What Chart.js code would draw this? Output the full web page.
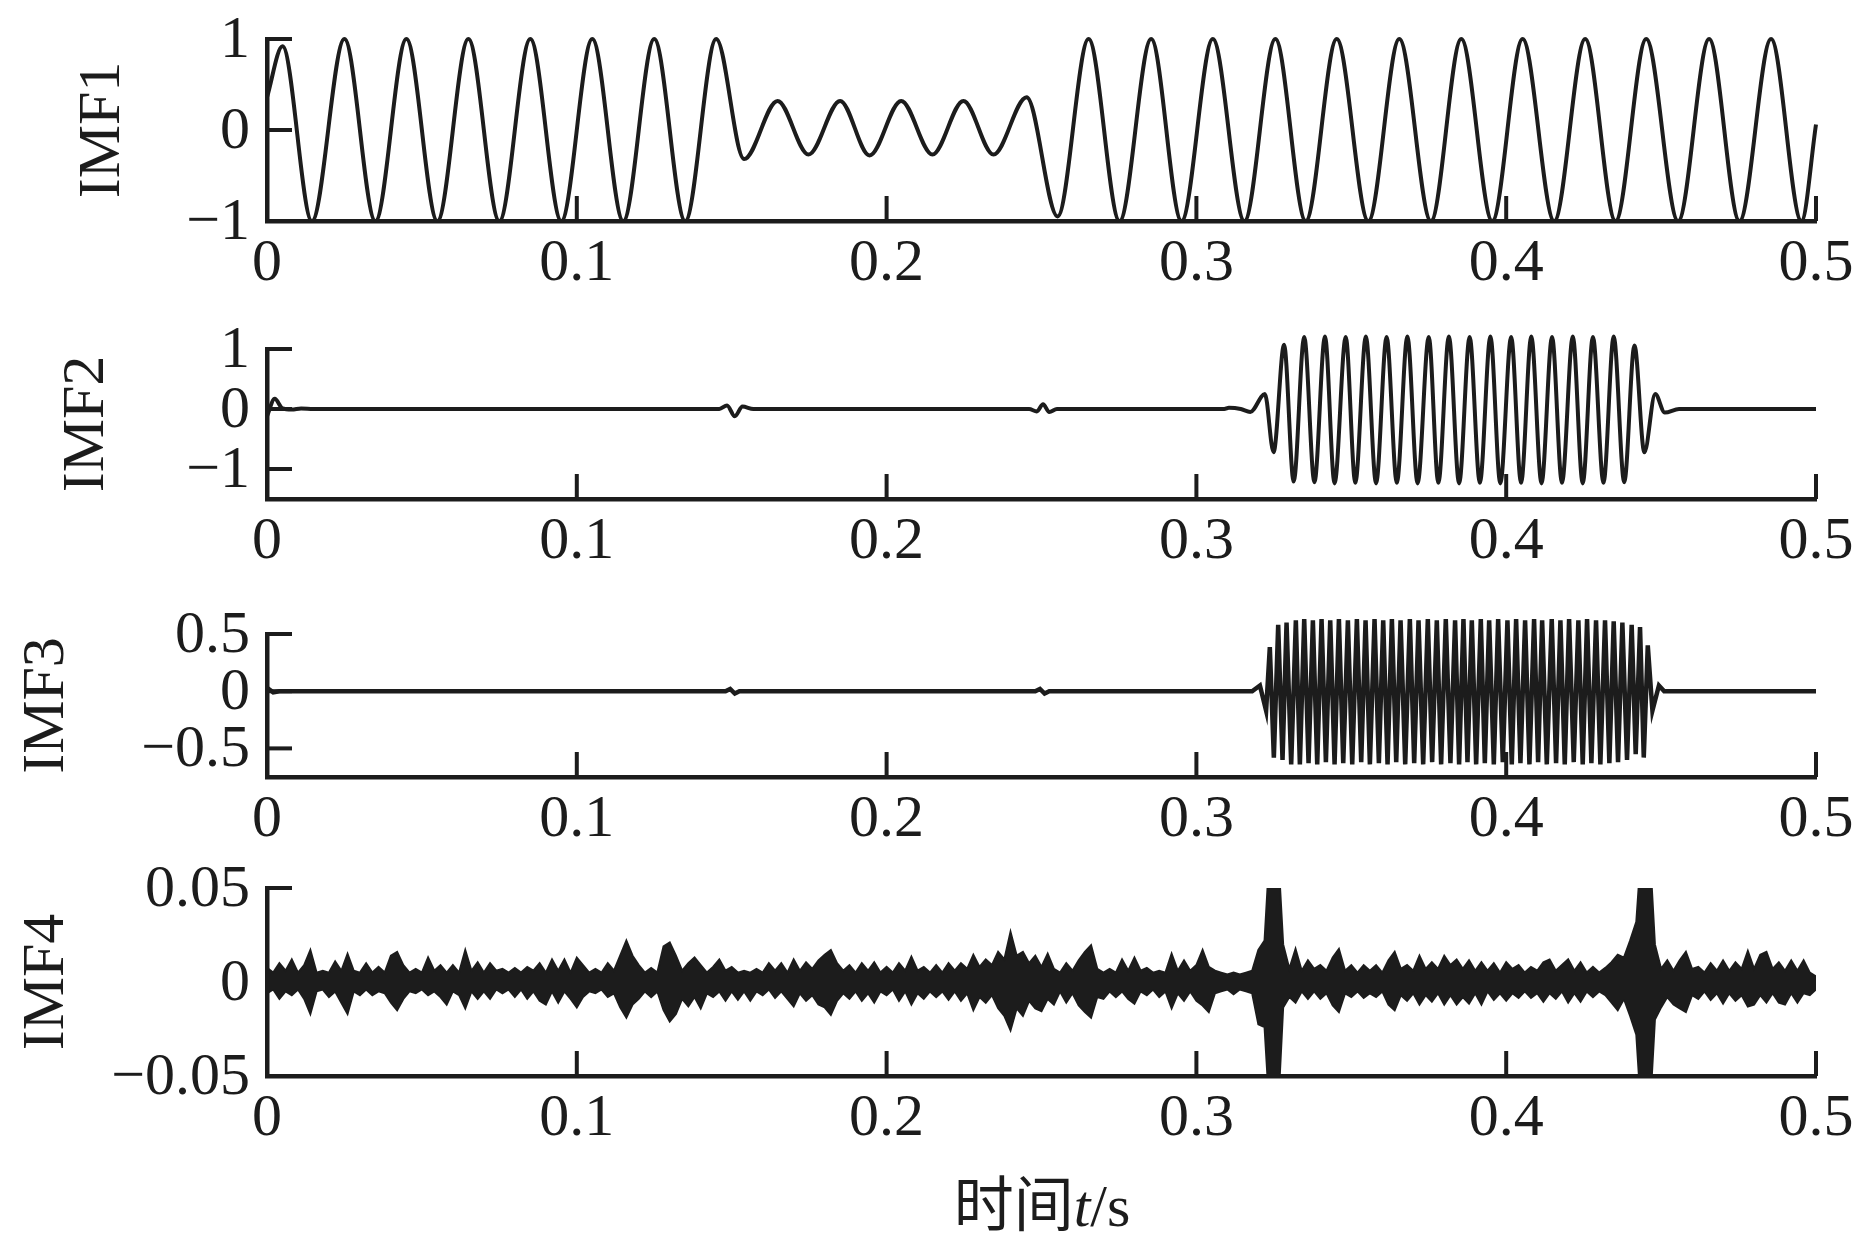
<!DOCTYPE html>
<html>
<head>
<meta charset="utf-8">
<script src="https://cdn.jsdelivr.net/npm/chart.js@4.4.0/dist/chart.umd.min.js"></script>
<style>
  body { margin: 0; background: #fff; }
  #wrap { position: relative; width: 1856px; height: 1249px; overflow: hidden; background: #fff; }
  #wrap canvas { position: absolute; left: 0; }
  #xtitle {
    position: absolute; left: 842px; width: 400px; top: 1174px;
    text-align: center; font-size: 60px; line-height: 64px; color: #1c1c1c;
    font-family: "Liberation Serif", "Noto Sans CJK SC", serif;
  }
</style>
</head>
<body>
<div id="wrap">
  <canvas id="imf1" width="1856" height="342" style="top:-21px"></canvas>
  <canvas id="imf2" width="1856" height="310" style="top:289px"></canvas>
  <canvas id="imf3" width="1856" height="303" style="top:574px"></canvas>
  <canvas id="imf4" width="1856" height="348" style="top:828px"></canvas>
  <div id="xtitle">时间<i>t</i>/s</div>
</div>
<script>
// shared x axis
const xTicks = [0, 0.1, 0.2, 0.3, 0.4, 0.5];
const xTickLabels = ['0', '0.1', '0.2', '0.3', '0.4', '0.5'];

// IMF1 - peaks / troughs
const imf1Time = [0, 0.005, 0.0145, 0.025, 0.035, 0.045, 0.055, 0.065, 0.075, 0.085, 0.095, 0.105, 0.115, 0.125, 0.135, 0.145,
  0.154, 0.1648, 0.1748, 0.185, 0.1945, 0.2047, 0.2148, 0.2248, 0.2345, 0.2452, 0.2552,
  0.2652, 0.2752, 0.2854, 0.2952, 0.3053, 0.3155, 0.3255, 0.3353, 0.3453, 0.3555, 0.3655, 0.3757,
  0.3855, 0.3955, 0.4053, 0.4155, 0.4255, 0.4353, 0.4452, 0.4555, 0.4655, 0.4753, 0.4855, 0.4953, 0.5];
const imf1Value = [0.36, 0.92, -1, 1, -1, 1, -1, 1, -1, 1, -1, 1, -1, 1, -1, 1,
  -0.32, 0.32, -0.27, 0.32, -0.28, 0.32, -0.27, 0.32, -0.27, 0.36, -0.95,
  1, -1, 1, -1, 1, -1, 1, -1, 1, -1, 1, -1,
  1, -1, 1, -1, 1, -1, 1, -1, 1, -1, 1, -1, 0.06];
const imf1Ticks = [-1, 0, 1];
const imf1TickLabels = ['\u22121', '0', '1'];

// IMF2
const imf2Time = [0, 0.0025, 0.005, 0.008, 0.011, 0.015, 0.146, 0.1485, 0.151, 0.1535, 0.157,
  0.246, 0.2485, 0.2505, 0.2525, 0.255, 0.309, 0.3105, 0.3143, 0.3174, 0.3221, 0.3249,
  0.3283, 0.3314, 0.3348, 0.3381, 0.3415, 0.3446, 0.3482, 0.3513, 0.3547, 0.3580, 0.3614, 0.3647,
  0.3681, 0.3714, 0.3750, 0.3781, 0.3815, 0.3848, 0.3882, 0.3915, 0.3949, 0.3981, 0.4016, 0.4048,
  0.4081, 0.4114, 0.4148, 0.4180, 0.4215, 0.4247, 0.4280, 0.4314, 0.4347, 0.4381, 0.4414, 0.4446,
  0.4481, 0.4512, 0.4558, 0.5];
const imf2Value = [-0.12, 0.17, 0.01, -0.01, 0.01, 0, 0, 0.06, -0.12, 0.04, 0,
  0, -0.04, 0.08, -0.05, 0, 0, 0.02, 0, -0.05, 0.25, -0.72,
  1.07, -1.21, 1.2, -1.22, 1.21, -1.24, 1.2, -1.23, 1.21, -1.24, 1.2, -1.23,
  1.21, -1.24, 1.2, -1.23, 1.21, -1.24, 1.2, -1.23, 1.21, -1.24, 1.2, -1.23,
  1.21, -1.24, 1.2, -1.23, 1.21, -1.24, 1.2, -1.23, 1.21, -1.22, 1.06, -0.72,
  0.25, -0.06, 0, 0];
const imf2Ticks = [-1, 0, 1];
const imf2TickLabels = ['\u22121', '0', '1'];

// IMF3
const imf3Time = [0, 0.002, 0.004, 0.148, 0.1495, 0.151, 0.1525, 0.248, 0.2495, 0.251, 0.2525, 0.318, 0.3205, 0.3225,
  0.3237, 0.3250, 0.3264, 0.3278, 0.3291, 0.3306, 0.3321, 0.3334, 0.3348, 0.3362, 0.3376, 0.3390,
  0.3404, 0.3418, 0.3432, 0.3446, 0.3460, 0.3474, 0.3489, 0.3503, 0.3518, 0.3532, 0.3546, 0.3560,
  0.3575, 0.3589, 0.3603, 0.3617, 0.3631, 0.3645, 0.3659, 0.3674, 0.3689, 0.3703, 0.3717, 0.3732,
  0.3747, 0.3761, 0.3776, 0.3790, 0.3805, 0.3820, 0.3835, 0.3848, 0.3862, 0.3875, 0.3889, 0.3903,
  0.3918, 0.3931, 0.3945, 0.3960, 0.3974, 0.3989, 0.4004, 0.4018, 0.4032, 0.4046, 0.4061, 0.4075,
  0.4090, 0.4103, 0.4116, 0.4131, 0.4147, 0.4161, 0.4175, 0.4189, 0.4203, 0.4218, 0.4233, 0.4247,
  0.4261, 0.4275, 0.4290, 0.4304, 0.4319, 0.4333, 0.4347, 0.4361, 0.4375, 0.4390, 0.4405, 0.4418,
  0.4432, 0.4444, 0.4457, 0.4472, 0.4493, 0.451, 0.5];
const imf3Value = [0.03, -0.01, 0, 0, 0.02, -0.02, 0, 0, 0.02, -0.02, 0, 0, 0.05, -0.17,
  0.385, -0.58, 0.58, -0.6, 0.6, -0.64, 0.62, -0.64, 0.63, -0.63, 0.62, -0.64,
  0.63, -0.62, 0.62, -0.64, 0.63, -0.63, 0.62, -0.64, 0.63, -0.62, 0.62, -0.64,
  0.63, -0.63, 0.62, -0.64, 0.63, -0.62, 0.62, -0.64, 0.63, -0.63, 0.62, -0.64,
  0.63, -0.62, 0.62, -0.64, 0.63, -0.63, 0.62, -0.64, 0.63, -0.62, 0.62, -0.64,
  0.63, -0.63, 0.62, -0.64, 0.63, -0.62, 0.62, -0.64, 0.63, -0.63, 0.62, -0.64,
  0.63, -0.62, 0.62, -0.64, 0.63, -0.63, 0.62, -0.64, 0.63, -0.62, 0.62, -0.64,
  0.63, -0.63, 0.62, -0.64, 0.62, -0.63, 0.61, -0.62, 0.6, -0.6, 0.58, -0.55,
  0.56, -0.58, 0.4, -0.17, 0.05, 0, 0];
const imf3Ticks = [-0.5, 0, 0.5];
const imf3TickLabels = ['\u22120.5', '0', '0.5'];

// IMF4 - upper / lower edge of the noise band, one value every 0.002 s, in units of 0.001
const imf4Step = 0.002;
const imf4Unit = 0.001;
const imf4Upper = [
  7.5, 5, 10, 6, 12, 5, 9, 17, 5, 6,
  5, 11, 6, 15, 6, 5, 10, 5, 8, 5,
  14, 16, 9, 5, 7, 5, 13, 6, 9, 5,
  9, 5, 17, 6, 10.5, 5, 10, 6, 7, 5,
  7.5, 5, 8, 6, 10, 5, 12, 6, 12, 5,
  13, 9, 5, 7, 5, 10, 6, 14, 22, 14,
  9, 5, 7.5, 5, 19, 21, 14, 6, 10, 13,
  9, 5, 8, 12, 6, 8, 5, 6, 5, 7,
  5, 10, 6, 10, 5, 12, 6, 10.5, 7, 11.5,
  14.5, 17, 10, 6, 9, 5, 10, 6, 10.5, 5,
  8, 5, 10, 6, 13.5, 6, 8, 5, 9, 5,
  10, 6, 10, 7, 14.5, 8, 12, 9, 16, 12,
  26.6, 14, 16, 10, 14,
  8, 15, 7, 5, 10, 6, 11.5, 16, 19.5, 7,
  5, 7, 5, 12, 6, 13, 6, 7.5, 5, 6,
  5, 15, 6, 11.5, 6, 9, 17, 8, 6, 5,
  4, 5, 4, 5, 6, 17, 22, 80, 80, 20,
  7, 17.5, 6, 11.5, 7, 9, 6, 13, 17.5, 6,
  9, 5, 9, 6, 9, 5, 11.5, 16, 7, 9,
  6, 14, 7, 10.5, 7, 14, 9, 12, 7, 11.5,
  6, 10.5, 6, 10, 5, 10.5, 7, 9, 5, 8,
  6, 10.5, 12, 6, 9, 12, 6, 10.5, 5, 8,
  5, 7.5, 10.5, 14.5, 13, 22, 32, 80, 80, 20,
  7, 11.5, 6, 11.5, 16, 7, 8, 5, 10, 6,
  11.5, 6, 10.5, 7, 16.5, 7, 14.5, 16, 7, 10.5,
  6, 11.5, 6, 11.5, 5, 3];
const imf4Lower = [
  -6, -4, -9, -5, -7, -4, -9, -17, -5, -4,
  -8, -5, -11, -17, -5, -7, -4, -7, -5, -6,
  -11, -15, -9, -5, -6, -4, -7, -5, -8, -12,
  -5, -7, -14, -5, -9, -5, -9, -4, -6, -4,
  -8, -4, -9, -5, -10, -12, -5, -11, -5, -9,
  -13.5, -8, -5, -6, -4, -8, -6, -13.5, -19, -12,
  -9, -5, -8, -5, -15, -21, -17, -9, -13, -8,
  -14, -6, -8, -5, -10, -5, -9.5, -5, -10, -5,
  -7, -4, -8.5, -5, -9, -13, -6, -10, -7, -12,
  -13.5, -17.5, -10, -6, -9, -5, -10, -6, -11, -5,
  -7, -4, -10, -5, -12, -6, -9, -5, -8, -5,
  -9.5, -5, -10, -6, -15, -8, -11, -7, -14, -18,
  -25.7, -14, -18, -10, -14,
  -15.5, -9, -12, -5, -11, -6, -12.5, -16, -19, -8,
  -9, -5, -8, -5, -9, -11.5, -5, -7, -4, -8,
  -5, -14, -6, -10, -5, -10, -12.5, -16, -6, -5,
  -4, -6.5, -4, -5, -6, -22.5, -24, -80, -80, -13.5,
  -8, -11, -5, -9, -5, -9, -6, -12.5, -16, -6,
  -8, -5, -8.5, -6, -8, -5, -12, -15, -7, -10,
  -6, -12, -7, -10.5, -6, -12, -7, -12, -8, -11.5,
  -6, -12, -5, -9.5, -6, -10, -6, -8.5, -5, -8.5,
  -6, -10.5, -6, -9, -5, -11, -6, -10.5, -5, -8,
  -5, -7, -11, -15, -9, -18, -28, -80, -80, -20,
  -13.5, -8, -12, -14, -16, -7, -9, -5, -9.5, -6,
  -11.5, -6, -10, -7, -13, -12, -7, -11, -6, -11,
  -12, -6, -11, -6, -7, -4];
const imf4Ticks = [-0.05, 0, 0.05];
const imf4TickLabels = ['\u22120.05', '0', '0.05'];

const ink = '#1c1c1c';
const serif = '"Liberation Serif", "Times New Roman", serif';

// draws the short inward-pointing tick marks
const inwardTicks = {
  id: 'inwardTicks',
  afterDatasetsDraw(chart) {
    const { ctx, scales: { x, y } } = chart;
    ctx.save();
    ctx.strokeStyle = ink;
    ctx.lineWidth = 4;
    x.ticks.forEach(t => {
      const px = x.getPixelForValue(t.value);
      ctx.beginPath();
      ctx.moveTo(px, x.top);
      ctx.lineTo(px, x.top - 25);
      ctx.stroke();
    });
    y.ticks.forEach(t => {
      const py = y.getPixelForValue(t.value);
      ctx.beginPath();
      ctx.moveTo(y.right, py);
      ctx.lineTo(y.right + 25, py);
      ctx.stroke();
    });
    ctx.restore();
  }
};

function toPoints(times, values) {
  return times.map((t, i) => ({ x: t, y: values[i] }));
}

function makePanel(id, datasets, yMin, yMax, yTicks, yLabels, title, titlePad) {
  return new Chart(document.getElementById(id), {
    type: 'line',
    data: { datasets: datasets },
    plugins: [inwardTicks],
    options: {
      responsive: false,
      animation: false,
      events: [],
      layout: { padding: { top: 60, right: 40, left: 0, bottom: 0 } },
      plugins: { legend: { display: false }, tooltip: { enabled: false } },
      elements: { point: { radius: 0 } },
      scales: {
        x: {
          type: 'linear',
          min: 0,
          max: 0.5,
          afterBuildTicks: s => { s.ticks = xTicks.map(v => ({ value: v })); },
          afterFit: s => { s.height = 100; },
          grid: { display: false, drawTicks: true, tickLength: 5 },
          border: { display: true, color: ink, width: 4.5 },
          ticks: {
            autoSkip: false, maxRotation: 0, padding: 2, color: ink,
            font: { family: serif, size: 60 },
            callback: (v, i) => xTickLabels[i]
          }
        },
        y: {
          type: 'linear',
          min: yMin,
          max: yMax,
          afterBuildTicks: s => { s.ticks = yTicks.map(v => ({ value: v })); },
          afterFit: s => { s.width = 267; },
          grid: { display: false, drawTicks: false },
          border: { display: true, color: ink, width: 4.5 },
          title: {
            display: true, text: title, color: ink,
            font: { family: serif, size: 60 },
            padding: { top: titlePad, bottom: 0 }
          },
          ticks: {
            autoSkip: false, padding: 17, labelOffset: 2, color: ink,
            font: { family: serif, size: 60 },
            callback: (v, i) => yLabels[i]
          }
        }
      }
    }
  });
}

makePanel('imf1', [{
  data: toPoints(imf1Time, imf1Value),
  borderColor: ink, borderWidth: 4, cubicInterpolationMode: 'monotone', clip: false
}], -1, 1, imf1Ticks, imf1TickLabels, 'IMF1', 67);

makePanel('imf2', [{
  data: toPoints(imf2Time, imf2Value),
  borderColor: ink, borderWidth: 4, cubicInterpolationMode: 'monotone', clip: false
}], -1.5, 1, imf2Ticks, imf2TickLabels, 'IMF2', 51);

makePanel('imf3', [{
  data: toPoints(imf3Time, imf3Value),
  borderColor: ink, borderWidth: 4.5, tension: 0, clip: false
}], -0.75, 0.5, imf3Ticks, imf3TickLabels, 'IMF3', 11);

makePanel('imf4', [{
  data: imf4Upper.map((v, i) => ({ x: i * imf4Step, y: v * imf4Unit })),
  borderColor: ink, borderWidth: 2, tension: 0, fill: '+1', backgroundColor: ink
}, {
  data: imf4Lower.map((v, i) => ({ x: i * imf4Step, y: v * imf4Unit })),
  borderColor: ink, borderWidth: 2, tension: 0, fill: false
}], -0.05, 0.05, imf4Ticks, imf4TickLabels, 'IMF4', 11);
</script>
</body>
</html>
